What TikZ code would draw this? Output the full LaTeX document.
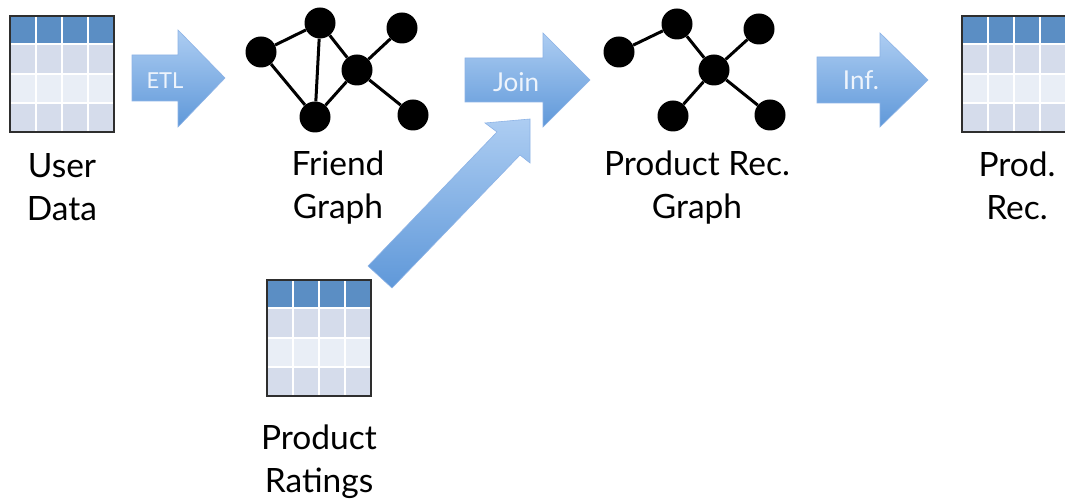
\documentclass[tikz,border=0pt]{standalone}
\usepackage{fontspec}
\setmainfont{Lato}
\definecolor{hdr}{HTML}{5B8EC4}
\definecolor{rowa}{HTML}{D5DCEB}
\definecolor{rowb}{HTML}{E9EEF6}
\definecolor{arrtop}{HTML}{ADCDF2}
\definecolor{arrbot}{HTML}{5F98D9}
\definecolor{arredge}{HTML}{8DB3E6}
\definecolor{frame}{HTML}{2E2E2E}
\definecolor{arrtext}{HTML}{EEF4FC}
\tikzset{
  tablecells/.pic={
    \fill[hdr] (-52,-58) rectangle (52,-31);
    \fill[rowa] (-52,-28.5) rectangle (52,0);
    \fill[rowb] (-52,0) rectangle (52,29);
    \fill[rowa] (-52,29) rectangle (52,58);
    \foreach \cx in {-26,0,26} \draw[white, line width=1.8pt] (\cx,-58) -- (\cx,58);
    \foreach \ry in {0,29} \draw[white, line width=1.2pt] (-52,\ry) -- (52,\ry);
  },
  datatab/.style={rectangle, inner sep=0pt, minimum width=104pt, minimum height=116pt,
    draw=frame, line width=1.6pt},
  caption/.style={align=center, anchor=base, inner sep=0pt, text=black,
    font=\fontsize{33.5}{43}\selectfont},
  blockarrow/.style={top color=arrtop, bottom color=arrbot, draw=arredge, line width=0.6pt},
  arrlabel/.style={text=arrtext, inner sep=0pt},
  gnode/.style={circle, fill=black, minimum size=31pt, inner sep=0pt},
  gedge/.style={draw=black, line width=3pt}
}
\begin{document}
\begin{tikzpicture}[x=1pt, y=-1pt]
\useasboundingbox (0,0) rectangle (1065,502);
\clip (0,0) rectangle (1065,502);
\fill[white] (0,0) rectangle (1065,502);

% tables
\pic at (62,74) {tablecells};
\node[datatab] (ud) at (62,74) {};
\pic at (1014,74) {tablecells};
\node[datatab] (pr) at (1014,74) {};
\pic at (319,338) {tablecells};
\node[datatab] (rt) at (319,338) {};

% captions (anchor = baseline of last line)
\node[caption] (udl) at (62,221) {User\\Data};
\node[caption] (fgl) at (338,219) {Friend\\Graph};
\node[caption] (pgl) at (697,219) {Product Rec.\\Graph};
\node[caption] (prl) at (1017,220) {Prod.\\Rec.};
\node[caption] (rtl) at (319,492) {Product\\Ratings};

% block arrows
\path[blockarrow] (132,55) -- (178,55) -- (178,30) -- (225,78) -- (178,127) -- (178,101) -- (132,101) -- cycle;
\path[blockarrow] (465,58) -- (543,58) -- (543,33) -- (590,80) -- (543,127) -- (543,102) -- (465,102) -- cycle;
\path[blockarrow] (817,57) -- (880,57) -- (880,33) -- (928,80) -- (880,127) -- (880,103) -- (817,103) -- cycle;
\coordinate (jtip) at (530,119);
\path[blockarrow] (368,266) -- (497,132) -- (485,123) -- (jtip) -- (530,163) -- (520,155) -- (392,288) -- cycle;

\node[arrlabel, font=\fontsize{22}{24}\selectfont] (etl) at (165,81) {ETL};
\node[arrlabel, font=\fontsize{26}{28}\selectfont] (join) at (516,82) {Join};
\node[arrlabel, font=\fontsize{26}{28}\selectfont] (inf) at (861,80) {Inf.};

% friend graph
\node[gnode] (f1) at (261,52) {};
\node[gnode] (f2) at (320,23) {};
\node[gnode] (f3) at (357,70) {};
\node[gnode] (f4) at (402,28) {};
\node[gnode] (f5) at (315,117) {};
\node[gnode] (f6) at (413,115) {};
\draw[gedge] (f1) -- (f2);
\draw[gedge] (f1) -- (f5);
\draw[gedge] (f2) -- (f5);
\draw[gedge] (f2) -- (f3);
\draw[gedge] (f3) -- (f4);
\draw[gedge] (f3) -- (f5);
\draw[gedge] (f3) -- (f6);

% product rec graph
\node[gnode] (p1) at (619,52) {};
\node[gnode] (p2) at (677,24) {};
\node[gnode] (p3) at (714,70) {};
\node[gnode] (p4) at (759,29) {};
\node[gnode] (p5) at (673,116) {};
\node[gnode] (p6) at (770,115) {};
\draw[gedge] (p1) -- (p2);
\draw[gedge] (p2) -- (p3);
\draw[gedge] (p3) -- (p4);
\draw[gedge] (p3) -- (p5);
\draw[gedge] (p3) -- (p6);
\end{tikzpicture}
\end{document}
